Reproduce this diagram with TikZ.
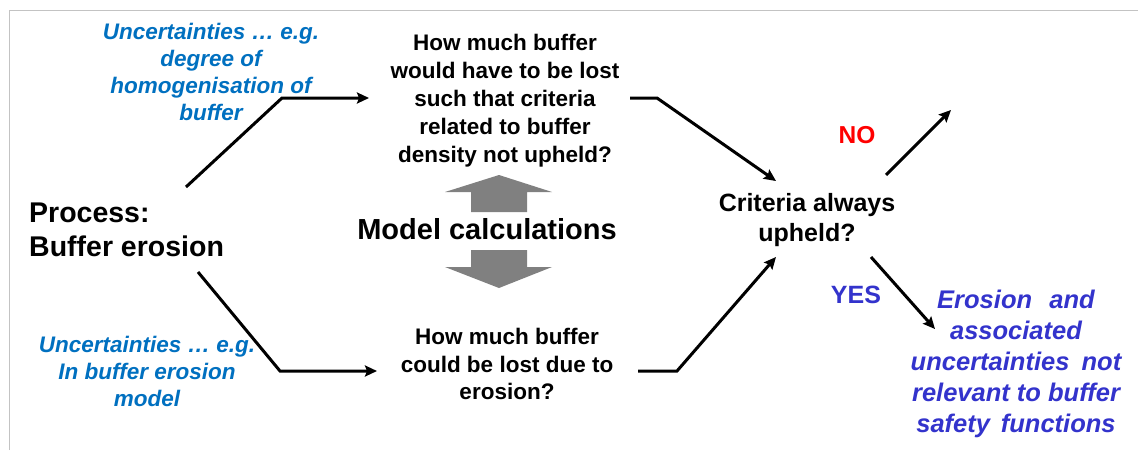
\documentclass[tikz,border=0pt]{standalone}
\usepackage{fontspec}
\setmainfont{Liberation Sans}
\usetikzlibrary{arrows.meta}
\definecolor{ublue}{RGB}{0,112,192}
\definecolor{ypurple}{RGB}{51,51,204}
\definecolor{bigarrow}{RGB}{128,128,128}
\definecolor{framegray}{RGB}{195,195,195}
\begin{document}
\begin{tikzpicture}[x=1pt,y=-1pt,
  conn/.style={line width=3pt,black,line join=miter},
  arr/.style={conn,-{Stealth[length=12pt,width=11pt,inset=2pt]}},
  qtext/.style={align=center,inner sep=0pt,font=\bfseries\fontsize{22.5}{27.5}\selectfont},
  utext/.style={align=center,inner sep=0pt,text=ublue,font=\bfseries\itshape\fontsize{22.5}{27}\selectfont},
  rtext/.style={align=center,inner sep=0pt,text=ypurple,font=\bfseries\itshape\fontsize{25.5}{31}\selectfont},
  garrow/.style={fill=bigarrow,draw=none}]
\useasboundingbox (0,0) rectangle (1138,450);
\fill[white] (0,0) rectangle (1138,450);
\draw[framegray,line width=1pt] (9,450) -- (9,10) -- (1138,10);

% texts
\node[utext] (u1) at (211,72) {Uncertainties … e.g.\\degree of\\homogenisation of\\buffer};
\node[utext] (u2) at (147,371) {Uncertainties … e.g.\\In buffer erosion\\model};
\node[anchor=west,align=left,inner sep=0pt,font=\bfseries\fontsize{28.5}{34}\selectfont] (proc) at (29,230) {Process:\\Buffer erosion};
\node[qtext,font=\bfseries\fontsize{22.5}{28}\selectfont] (q1) at (505,101) {How much buffer\\would have to be lost\\such that criteria\\related to buffer\\density not upheld?};
\node[qtext] (q2) at (507,364) {How much buffer\\could be lost due to\\erosion?};
\node[inner sep=0pt,font=\bfseries\fontsize{29}{34}\selectfont] (model) at (487,229) {Model calculations};
\node[align=center,inner sep=0pt,font=\bfseries\fontsize{25}{30}\selectfont] (crit) at (807,220) {Criteria always\\upheld?};
\node[inner sep=0pt,text=red,font=\bfseries\fontsize{24.5}{28}\selectfont] (no) at (857,135) {NO};
\node[inner sep=0pt,text=ypurple,font=\bfseries\fontsize{25}{28}\selectfont] (yes) at (856,295) {YES};
\node[rtext] (res) at (1016,364) {Erosion\hspace{0.4em} and\\associated\\uncertainties\hspace{0.2em} not\\relevant to buffer\\safety\hspace{0.15em} functions};

% gray double arrow
\fill[garrow] (499,175) -- (552,192) -- (527,192) -- (527,212) -- (471,212) -- (471,192) -- (445,192) -- cycle;
\fill[garrow] (499,288) -- (552,267) -- (527,267) -- (527,250) -- (471,250) -- (471,267) -- (445,267) -- cycle;

% connector endpoints
\coordinate (p1s) at (186,187);
\coordinate (p1c) at (282,98);
\coordinate (q1in) at (369,98);
\coordinate (p2s) at (198,272);
\coordinate (p2c) at (280,371);
\coordinate (q2in) at (377,371);
\coordinate (q1out) at (630,98);
\coordinate (q1c) at (657,98);
\coordinate (critin1) at (776,181);
\coordinate (q2out) at (638,371);
\coordinate (q2c) at (677,371);
\coordinate (critin2) at (776,257);
\coordinate (nos) at (886,175);
\coordinate (noe) at (951,110);
\coordinate (yess) at (871,257);
\coordinate (yese) at (935,329);

\draw[arr] (p1s) -- (p1c) -- (q1in);
\draw[arr] (p2s) -- (p2c) -- (q2in);
\draw[arr] (q1out) -- (q1c) -- (critin1);
\draw[arr] (q2out) -- (q2c) -- (critin2);
\draw[arr] (nos) -- (noe);
\draw[arr] (yess) -- (yese);
\end{tikzpicture}
\end{document}
